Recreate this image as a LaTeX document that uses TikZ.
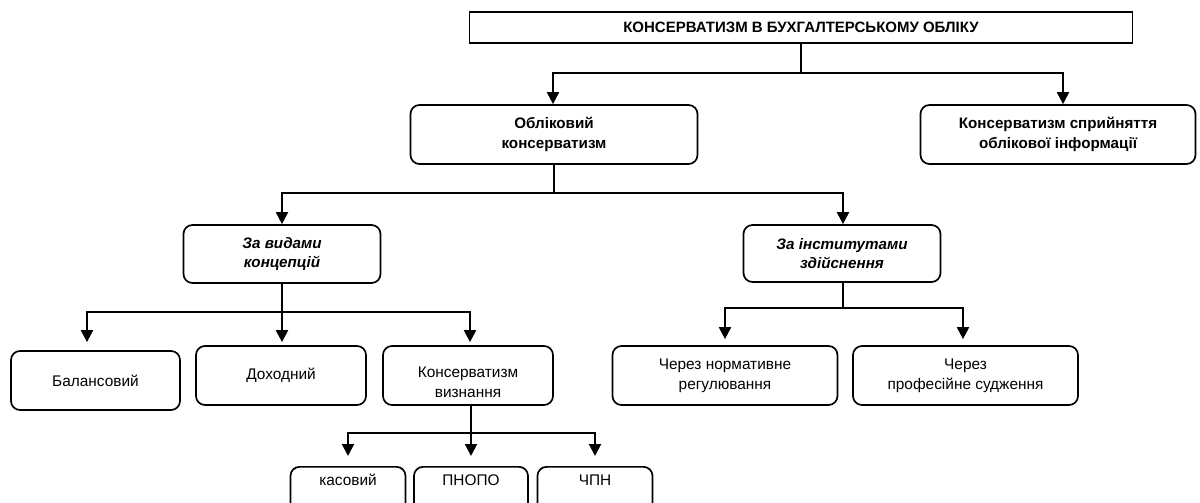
\documentclass[tikz,border=0pt]{standalone}
\usepackage{fontspec}
\setmainfont{Liberation Sans}
\usetikzlibrary{arrows.meta}
\begin{document}
\begin{tikzpicture}[x=1pt,y=-1pt,
  box/.style={draw, line width=1.7pt, rounded corners=9pt, align=center,
    inner sep=0pt, font=\fontsize{15.4}{20}\selectfont},
  boldbox/.style={box, font=\fontsize{15.2}{20}\selectfont\bfseries},
  itbox/.style={box, font=\fontsize{15.2}{19.5}\selectfont\bfseries\itshape},
  lowbox/.style={box, anchor=north, text height=19pt, text depth=45pt},
  conn/.style={line width=2pt, -{Triangle[width=12pt,length=12pt]}}
]
\useasboundingbox (0,0) rectangle (1200,503);
\clip (0,0) rectangle (1200,503);

\node[boldbox, rounded corners=0pt, minimum width=663pt, minimum height=31pt,
  font=\fontsize{15}{17}\selectfont\bfseries] (top) at (801,27.5)
  {КОНСЕРВАТИЗМ В БУХГАЛТЕРСЬКОМУ ОБЛІКУ};

\node[boldbox, minimum width=287pt, minimum height=59pt] (obl) at (554,134.5)
  {Обліковий\\консерватизм};
\node[boldbox, minimum width=275pt, minimum height=59pt] (perc) at (1058,134.5)
  {Консерватизм сприйняття\\облікової інформації};

\node[itbox, minimum width=197pt, minimum height=58pt] (vid) at (282,254)
  {За видами\\концепцій};
\node[itbox, minimum width=197pt, minimum height=57pt] (inst) at (842,253.5)
  {За інститутами\\здійснення};

\node[box, minimum width=169pt, minimum height=59pt] (bal) at (95.5,380.5) {Балансовий};
\node[box, minimum width=170pt, minimum height=59pt] (dox) at (281,375.5) {Доходний};
\node[box, minimum width=170pt, minimum height=59pt] (kv) at (468,375.5)
  {\rule{0pt}{24pt}Консерватизм\\визнання};

\node[box, minimum width=225pt, minimum height=59pt] (norm) at (725,375.5)
  {Через нормативне\\регулювання};
\node[box, minimum width=225pt, minimum height=59pt] (prof) at (965.5,375.5)
  {Через\\професійне судження};

\node[lowbox, minimum width=115pt] (kas) at (348,466) {касовий};
\node[lowbox, minimum width=114pt] (pnopo) at (471,466) {ПНОПО};
\node[lowbox, minimum width=115pt] (chpn) at (595,466) {ЧПН};

% level 1
\draw[conn] (top.south) -- ++(0,29) -| ([xshift=-1pt]obl.north);
\draw[conn] (top.south) -- ++(0,29) -| ([xshift=5pt]perc.north);
% level 2
\draw[conn] (obl.south) -- ++(0,28) -| (vid.north);
\draw[conn] (obl.south) -- ++(0,28) -| ([xshift=1pt]inst.north);
% level 3 left
\draw[conn, shorten >=8pt] (vid.south) -- ++(0,28) -| ([xshift=-8.5pt]bal.north);
\draw[conn, shorten >=3pt] (vid.south) -- ++(0,28) -| ([xshift=1pt]dox.north);
\draw[conn, shorten >=3pt] (vid.south) -- ++(0,28) -| ([xshift=2pt]kv.north);
% level 3 right
\draw[conn, shorten >=6pt] ([xshift=1pt]inst.south) -- ++(0,25) -| (norm.north);
\draw[conn, shorten >=6pt] ([xshift=1pt]inst.south) -- ++(0,25) -| ([xshift=-2.5pt]prof.north);
% level 4
\draw[conn, shorten >=10pt] ([xshift=3pt]kv.south) -- ++(0,27) -| (kas.north);
\draw[conn, shorten >=10pt] ([xshift=3pt]kv.south) -- ++(0,27) -| (pnopo.north);
\draw[conn, shorten >=10pt] ([xshift=3pt]kv.south) -- ++(0,27) -| (chpn.north);
\end{tikzpicture}
\end{document}
